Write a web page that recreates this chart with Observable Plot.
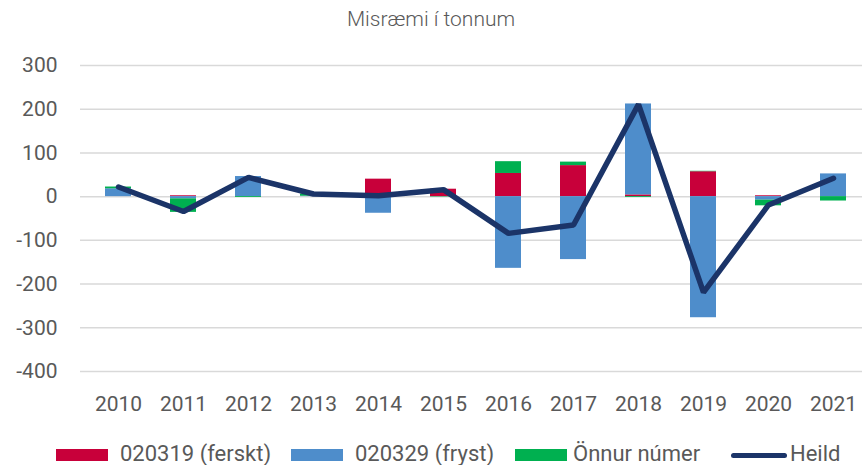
<!DOCTYPE html>
<html>
<head>
<meta charset="utf-8">
<script src="https://cdn.jsdelivr.net/npm/d3@7"></script>
<script src="https://cdn.jsdelivr.net/npm/@observablehq/plot@0.6"></script>
<style>
  html, body { margin: 0; padding: 0; background: #fff; overflow: hidden; }
  #wrap { position: relative; width: 862px; height: 465px; font-family: Roboto, "Noto Sans", sans-serif; color: #595959; }
  #title { position: absolute; left: 0; top: 0; width: 862px; height: 38px; line-height: 38px; text-align: center; font-size: 21px; font-weight: 300; }
  #chart { position: absolute; left: 0; top: 38px; }
  .lg { position: absolute; top: 442px; height: 24px; line-height: 24px; font-size: 22px; white-space: nowrap; }
  .sw { position: absolute; }
</style>
</head>
<body>
<div id="wrap">
  <div id="title">Misræmi í tonnum</div>
  <div id="chart"></div>
  <div id="legend"></div>
</div>
<script>
const years = [2010, 2011, 2012, 2013, 2014, 2015, 2016, 2017, 2018, 2019, 2020, 2021];
const seriesNames = ["020319 (ferskt)", "020329 (fryst)", "Önnur númer"];
const lineName = "Heild";
const ferskt = [0, 2, 0, 0, 40, 17, 53, 71, 4, 57, 2, 0];
const fryst  = [18, -5, 46, 1, -38, 0, -164, -144, 208, -277, -8, 52];
const onnur  = [4, -31, -2, 5, 0, -1, 27, 8, -2, 1, -13, -10];
const heild  = [22, -34, 44, 6, 2, 16, -84, -65, 211, -219, -19, 42];
const yTicks = [-400, -300, -200, -100, 0, 100, 200, 300];
const barColors = ["#C8003A", "#4E8DCB", "#00B050"];
const lineColor = "#1B3468";

const seriesData = [ferskt, fryst, onnur];
const rows = years.flatMap((yr, i) => seriesNames.map((s, k) => ({year: yr, series: s, value: seriesData[k][i]})));
const lineRows = years.map((yr, i) => ({year: yr, value: heild[i]}));

const plot = Plot.plot({
  width: 862,
  height: 392,
  marginLeft: 80,
  marginRight: 0,
  marginTop: 27,
  marginBottom: 59,
  style: {fontFamily: "Roboto, 'Noto Sans', sans-serif", fontSize: "21px", color: "#595959", background: "#fff"},
  x: {type: "band", domain: years, range: [86.6, 864.4], paddingInner: 0.6, paddingOuter: 0.2, label: null, tickSize: 0, tickPadding: 25, tickFormat: d => String(d)},
  y: {domain: [-400, 300], ticks: yTicks, label: null, tickSize: 0, tickPadding: 23, tickFormat: d => (d < 0 ? "-" + Math.abs(d) : String(d))},
  color: {domain: seriesNames, range: barColors},
  marks: [
    Plot.ruleY(yTicks, {stroke: "#d9d9d9", strokeWidth: 1.5}),
    Plot.barY(rows, {x: "year", y: "value", fill: "series"}),
    Plot.line(lineRows, {x: "year", y: "value", stroke: lineColor, strokeWidth: 5.5, strokeLinecap: "round", strokeLinejoin: "miter"})
  ]
});
document.getElementById("chart").appendChild(plot);

// legend
const legend = document.getElementById("legend");
const items = [
  {name: seriesNames[0], color: barColors[0], sw: 56, tx: 120, type: "bar"},
  {name: seriesNames[1], color: barColors[1], sw: 291, tx: 355, type: "bar"},
  {name: seriesNames[2], color: barColors[2], sw: 515, tx: 573, type: "bar"},
  {name: lineName, color: lineColor, sw: 731, tx: 790, type: "line"}
];
items.forEach(it => {
  const s = document.createElement("div");
  s.className = "sw";
  s.style.left = it.sw + "px";
  s.style.width = (it.type === "bar" ? 52 : 56) + "px";
  if (it.type === "bar") {
    s.style.top = "449px"; s.style.height = "12px";
  } else {
    s.style.top = "453px"; s.style.height = "5px"; s.style.borderRadius = "3px";
  }
  s.style.background = it.color;
  legend.appendChild(s);
  const t = document.createElement("div");
  t.className = "lg";
  t.style.left = it.tx + "px";
  t.textContent = it.name;
  legend.appendChild(t);
});
</script>
</body>
</html>
